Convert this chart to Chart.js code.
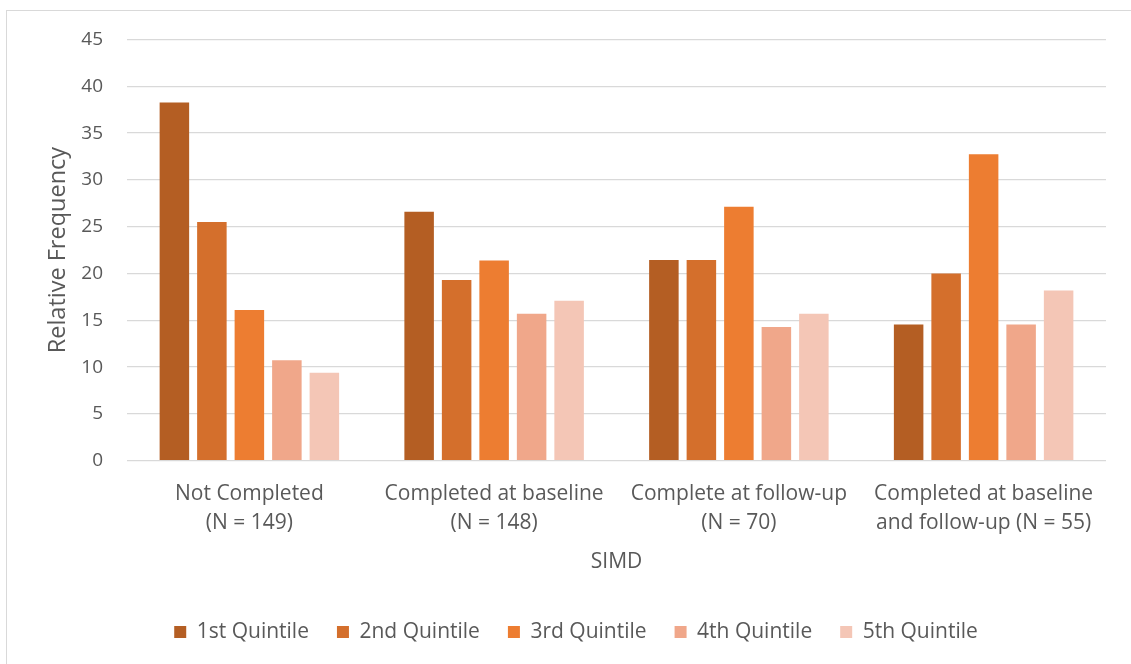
<!DOCTYPE html>
<html>
<head>
<meta charset="utf-8">
<script src="https://cdn.jsdelivr.net/npm/chart.js@4.4.1/dist/chart.umd.min.js"></script>
<style>
  html, body { margin: 0; padding: 0; background: #ffffff; overflow: hidden; }
  #frame { position: absolute; left: 6px; top: 10px; width: 1300px; height: 800px;
           border: 1px solid #d9d9d9; box-sizing: border-box; }
  #wrap { position: absolute; left: 0; top: 0; width: 1131px; height: 664px; }
</style>
</head>
<body>
<div id="frame"></div>
<div id="wrap"><canvas id="chart" width="1131" height="664"></canvas></div>
<script>
// Completion groups (x-axis categories, two-line labels)
const categories = [
  ['Not Completed', '(N = 149)'],
  ['Completed at baseline', '(N = 148)'],
  ['Complete at follow-up', '(N = 70)'],
  ['Completed at baseline', 'and follow-up (N = 55)']
];

// SIMD quintile series, relative frequency (%) per group
const seriesNames = ['1st Quintile', '2nd Quintile', '3rd Quintile', '4th Quintile', '5th Quintile'];
const quintile1 = [38.26, 26.6, 21.43, 14.55];
const quintile2 = [25.50, 19.3, 21.43, 20.00];
const quintile3 = [16.11, 21.4, 27.14, 32.73];
const quintile4 = [10.74, 15.7, 14.29, 14.55];
const quintile5 = [9.40, 17.1, 15.71, 18.18];

// Y axis range and tick step
const yMin = 0;
const yMax = 45;
const yStep = 5;

const seriesValues = [quintile1, quintile2, quintile3, quintile4, quintile5];
const seriesColors = ['#B45E23', '#D46F2C', '#ED7D31', '#F0A78A', '#F4C6B6'];

const textColor = '#595959';
const gridColor = '#d9d9d9';
const family = '"Open Sans", Lato, sans-serif';

const datasets = seriesNames.map((name, i) => ({
  label: name,
  data: seriesValues[i],
  backgroundColor: seriesColors[i],
  borderWidth: 0,
  categoryPercentage: 0.766,
  barPercentage: 0.787
}));

// Nudges the bottom legend horizontally after layout
const legendShift = {
  id: 'legendShift',
  afterLayout(chart, args, opts) {
    const lg = chart.legend;
    if (!lg) return;
    lg.left += opts.dx;
    lg.right += opts.dx;
  }
};

new Chart(document.getElementById('chart'), {
  type: 'bar',
  data: { labels: categories, datasets },
  plugins: [legendShift],
  options: {
    responsive: false,
    devicePixelRatio: 1,
    animation: false,
    layout: { padding: { top: 39.5, right: 25, left: 0, bottom: 11.5 } },
    plugins: {
      tooltip: { enabled: false },
      legendShift: { dx: 23 },
      legend: {
        position: 'bottom',
        labels: {
          color: textColor,
          font: { family, size: 21 },
          boxWidth: 12,
          boxHeight: 12,
          padding: 28
        }
      }
    },
    scales: {
      x: {
        grid: { display: false, drawTicks: false },
        border: { display: false },
        ticks: {
          color: textColor,
          font: { family, size: 21, lineHeight: '29px' },
          padding: 19,
          maxRotation: 0,
          autoSkip: false
        },
        title: {
          display: true,
          text: 'SIMD',
          color: textColor,
          font: { family, size: 21, lineHeight: 1.2 },
          padding: { top: 0, bottom: 18.9 }
        },
        afterFit(scale) { scale.height = 132.8; }
      },
      y: {
        min: yMin,
        max: yMax,
        grid: { color: gridColor, lineWidth: 1.3, drawTicks: false },
        border: { display: false },
        ticks: {
          stepSize: yStep,
          color: textColor,
          font: { family, size: 19 },
          padding: 24
        },
        title: {
          display: true,
          text: 'Relative Frequency',
          color: textColor,
          font: { family, size: 23.5, lineHeight: 1.2 },
          padding: { top: 44, bottom: 0 }
        },
        afterFit(scale) { scale.width = 127; }
      }
    }
  }
});
</script>
</body>
</html>
